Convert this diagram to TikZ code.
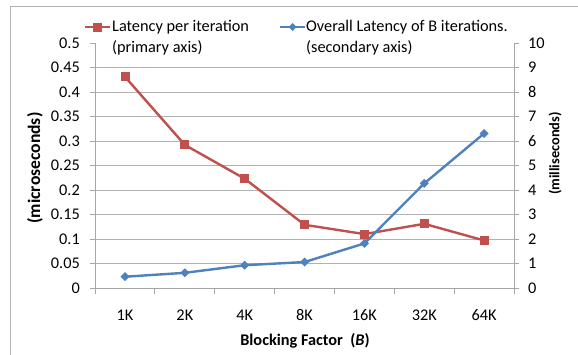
\documentclass[tikz,border=0pt]{standalone}
\usepackage{fontspec}
\setmainfont{Carlito}
\usetikzlibrary{calc}
\definecolor{redc}{HTML}{C0504D}
\definecolor{bluec}{HTML}{4F81BD}
\begin{document}
\begin{tikzpicture}[x=1pt,y=-1pt,
  grid/.style={draw=black!30,line width=0.8pt},
  axisline/.style={draw=black!35,line width=0.8pt},
  ticklab/.style={font=\fontsize{16.3}{21}\selectfont,inner sep=0pt},
  axtitle/.style={font=\fontsize{16.3}{21}\selectfont\bfseries,inner sep=0pt},
  redline/.style={draw=redc,line width=2.4pt,line join=round},
  blueline/.style={draw=bluec,line width=2.4pt,line join=round}
]
\useasboundingbox (0,0) rectangle (578,354);
\fill[white] (0,0) rectangle (578,354);
\draw[black!30,line width=0.8pt] (10,6) rectangle (600,380);
% gridlines
\foreach \i in {1,...,9} {
  \draw[grid] (95,{288-24.5*\i}) -- (514,{288-24.5*\i});
}
% axes
\draw[axisline] (95,43) -- (95,288);
\draw[axisline] (514,43) -- (514,288);
\draw[axisline] (90,288) -- (519,288);
\foreach \i in {0,...,10} {
  \draw[axisline] (90,{288-24.5*\i}) -- (95,{288-24.5*\i});
  \draw[axisline] (514,{288-24.5*\i}) -- (519,{288-24.5*\i});
}
\foreach \k in {0,...,7} {
  \draw[axisline] ({95+59.857*\k},288) -- ({95+59.857*\k},294);
}
% left labels
\foreach \v/\i in {0/0,0.05/1,0.1/2,0.15/3,0.2/4,0.25/5,0.3/6,0.35/7,0.4/8,0.45/9,0.5/10} {
  \node[ticklab,anchor=east] (l\i) at (80,{288-24.5*\i}) {\v};
}
\foreach \i in {0,...,10} {
  \node[ticklab,anchor=west] (r\i) at (528,{288-24.5*\i}) {\i};
}
% category labels
\foreach \c [count=\k from 0] in {1K,2K,4K,8K,16K,32K,64K} {
  \node[ticklab] (c\k) at ({125+59.857*\k},315) {\c};
}
% axis titles
\node[axtitle,font=\fontsize{17.6}{21}\selectfont\bfseries,rotate=90] (ytl) at (35,168) {(microseconds)};
\node[axtitle,font=\fontsize{14.4}{18}\selectfont\bfseries,rotate=90] (ytr) at (555,153.5) {(milliseconds)};
\node[axtitle] (xt) at (305,341) {Blocking Factor\ \ (\textit{B})};
% red series
\foreach \v [count=\k from 0] in {0.431,0.292,0.223,0.129,0.110,0.131,0.097} {
  \coordinate (p\k) at ({125+59.857*\k},{288-490*\v});
}
\draw[redline] (p0)--(p1)--(p2)--(p3)--(p4)--(p5)--(p6);
% blue series
\foreach \v [count=\k from 0] in {0.46,0.62,0.93,1.06,1.82,4.27,6.31} {
  \coordinate (q\k) at ({125+59.857*\k},{288-24.5*\v});
}
\draw[blueline] (q0)--(q1)--(q2)--(q3)--(q4)--(q5)--(q6);
\foreach \k in {0,...,6} {
  \fill[bluec] ($(q\k)+(0,-4.5)$) -- ++(4.5,4.5) -- ++(-4.5,4.5) -- ++(-4.5,-4.5) -- cycle;
}
\foreach \k in {0,...,6} {
  \fill[redc] ($(p\k)+(-4.5,-4.5)$) rectangle ++(9,9);
}
% legend
\coordinate (la) at (85,27);
\coordinate (lb) at (110,27);
\draw[redline] (la) -- (lb);
\fill[redc] ($(la)!0.5!(lb)+(-4.5,-4.5)$) rectangle ++(9,9);
\node[ticklab,anchor=west,align=left] (lt1) at (112,37.5) {Latency per iteration\\(primary axis)};
\coordinate (lc) at (280,27);
\coordinate (ld) at (305,27);
\draw[blueline] (lc) -- (ld);
\fill[bluec] ($(lc)!0.5!(ld)+(0,-4)$) -- ++(4,4) -- ++(-4,4) -- ++(-4,-4) -- cycle;
\node[ticklab,anchor=west,align=left] (lt2) at (306,37.5) {Overall Latency of B iterations.\\(secondary axis)};
\end{tikzpicture}
\end{document}
